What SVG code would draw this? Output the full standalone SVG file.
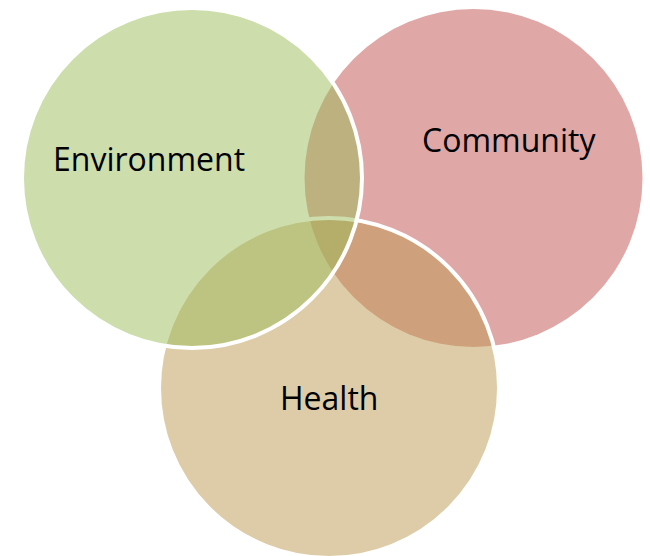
<svg xmlns="http://www.w3.org/2000/svg" width="650" height="556" viewBox="0 0 650 556">
<style>
.fill{fill-opacity:0.5}
.lbl{font-family:"Open Sans","Noto Sans","Liberation Sans",sans-serif;font-size:32px;fill:#000}
</style>
<rect width="650" height="556" fill="#ffffff"/>
<g id="community">
<circle cx="473.5" cy="178" r="169" fill="#C0504D" class="fill"/>
<text class="lbl" x="422" y="152">Community</text>
</g>
<g id="health">
<circle cx="329" cy="388" r="170" fill="#BE9A52" class="fill" stroke="#ffffff" stroke-width="4"/>
<text class="lbl" x="280" y="410">Health</text>
</g>
<g id="environment">
<circle cx="192" cy="178" r="170" fill="#9BBB59" class="fill" stroke="#ffffff" stroke-width="4"/>
<text class="lbl" x="53" y="171">Environment</text>
</g>
<g id="connectors"></g>
</svg>
